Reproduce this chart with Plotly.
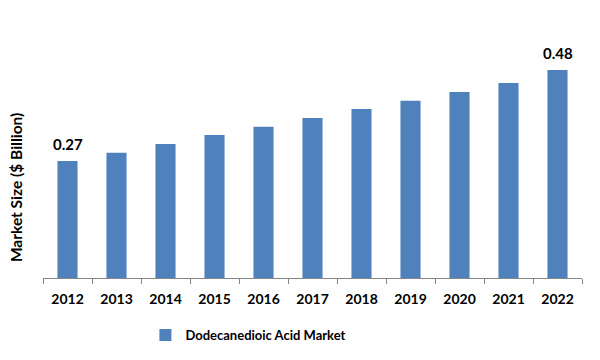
import plotly.graph_objects as go

years = ["2012", "2013", "2014", "2015", "2016", "2017", "2018", "2019", "2020", "2021", "2022"]
market_size = [0.27, 0.289, 0.309, 0.330, 0.349, 0.369, 0.390, 0.409, 0.429, 0.450, 0.48]
labeled_years = ["2012", "2022"]
series_name = "Dodecanedioic Acid Market"
y_title = "Market Size ($ Billion)"

FONT = "Lato"
BLUE = "#4F81BD"

fig = go.Figure()
fig.add_trace(go.Bar(
    x=years, y=market_size, name=series_name,
    marker=dict(color=BLUE, line=dict(width=0)),
    showlegend=True,
))

for i, (yr, v) in enumerate(zip(years, market_size)):
    if yr in labeled_years:
        fig.add_annotation(
            x=i, y=v, text=f"<b>{v:.2f}</b>", showarrow=False,
            yanchor="bottom", yshift=6,
            font=dict(family=FONT, size=15, color="#000000"),
        )

# y-axis title placed like the reference (below the plot-area centre)
fig.add_annotation(
    xref="paper", yref="paper", x=-0.050, y=0.346,
    xanchor="center", yanchor="middle", textangle=-90,
    text=f"<b>{y_title}</b>", showarrow=False,
    font=dict(family=FONT, size=15.5, color="#000000"),
)

fig.update_layout(
    width=600, height=360,
    margin=dict(l=35, r=26, t=10, b=90, autoexpand=False),
    paper_bgcolor="white", plot_bgcolor="white",
    bargap=0.59,
    font=dict(family=FONT, color="#000000"),
    legend=dict(
        orientation="h", x=0.19, xanchor="left", y=-0.219, yanchor="middle",
        font=dict(family=FONT, size=13, color="#000000", weight="bold"),
        itemwidth=30, bgcolor="rgba(0,0,0,0)",
    ),
    xaxis=dict(
        type="category", showline=True, linecolor="#868686", linewidth=1,
        ticks="outside", tickson="boundaries", ticklen=5, tickcolor="#868686",
        tickfont=dict(family=FONT, size=14, color="#000000", weight="bold"),
        ticklabelstandoff=8,
        showgrid=False, zeroline=False, tickangle=0, automargin=False,
    ),
    yaxis=dict(
        range=[0, 0.6], showticklabels=False, showgrid=False, zeroline=False,
        showline=False, ticks="", automargin=False,
    ),
)

fig.write_html("out.html")
